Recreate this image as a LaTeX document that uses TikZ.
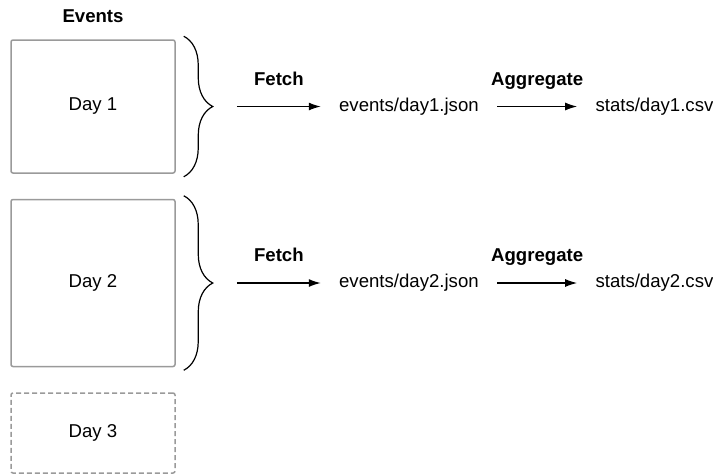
\documentclass[tikz,border=0pt]{standalone}
\usepackage{fontspec}
\setmainfont{Liberation Sans}
\usetikzlibrary{decorations.pathreplacing, positioning, arrows.meta}
\definecolor{boxgray}{HTML}{9A9A9A}

\begin{document}
\begin{tikzpicture}[x=0.5pt, y=-0.5pt,
	daybox/.style={draw=boxgray, line width=0.75pt, rounded corners=1pt, minimum width=82pt, text centered, font=\fontsize{9.3pt}{11pt}\selectfont},
	filename/.style={inner xsep=9pt, font=\fontsize{9.3pt}{11pt}\selectfont},
	steplabel/.style={inner sep=0pt, anchor=base, yshift=10.7pt, font=\fontsize{9.3pt}{11pt}\selectfont\bfseries},
	flow/.style={-{Latex[length=6pt, width=4pt]}, line width=0.6pt},
	daybrace/.style={decorate, decoration={brace, amplitude=14.5pt}, line width=0.6pt},
	node distance=12.5pt]

	\useasboundingbox (0,0) rectangle (713,473);

	% Event days
	\node[daybox, minimum height=66.5pt] (day1) at (93,106.5) {Day 1};
	\node[daybox, minimum height=83.5pt, below=of day1] (day2) {Day 2};
	\node[daybox, minimum height=40pt, dash pattern=on 2.5pt off 1.5pt, below=of day2] (day3) {Day 3};
	\node[inner sep=0pt, font=\fontsize{9.3pt}{11pt}\selectfont\bfseries, above=8.2pt of day1] (events) {Events};

	% Braces for days
	\draw[daybrace] ([xshift=4pt, yshift=1.5pt]day1.north east) -- ([xshift=4pt, yshift=-1.5pt]day1.south east);
	\draw[daybrace] ([xshift=4pt, yshift=1.5pt]day2.north east) -- ([xshift=4pt, yshift=-1.5pt]day2.south east);

	% Day 1
	\coordinate[right=30.6pt of day1] (fetch1);
	\node[filename, right=72.5pt of day1] (json1) {events/day1.json};
	\node[filename, right=40pt of json1] (csv1) {stats/day1.csv};
	\draw[flow] (fetch1) -- (json1) node[midway, steplabel] {Fetch};
	\draw[flow] (json1) -- (csv1) node[midway, steplabel] {Aggregate};

	% Day 2
	\coordinate[right=30.6pt of day2] (fetch2);
	\node[filename, right=72.5pt of day2] (json2) {events/day2.json};
	\node[filename, right=40pt of json2] (csv2) {stats/day2.csv};
	\draw[flow] (fetch2) -- (json2) node[midway, steplabel] {Fetch};
	\draw[flow] (json2) -- (csv2) node[midway, steplabel] {Aggregate};

\end{tikzpicture}
\end{document}
